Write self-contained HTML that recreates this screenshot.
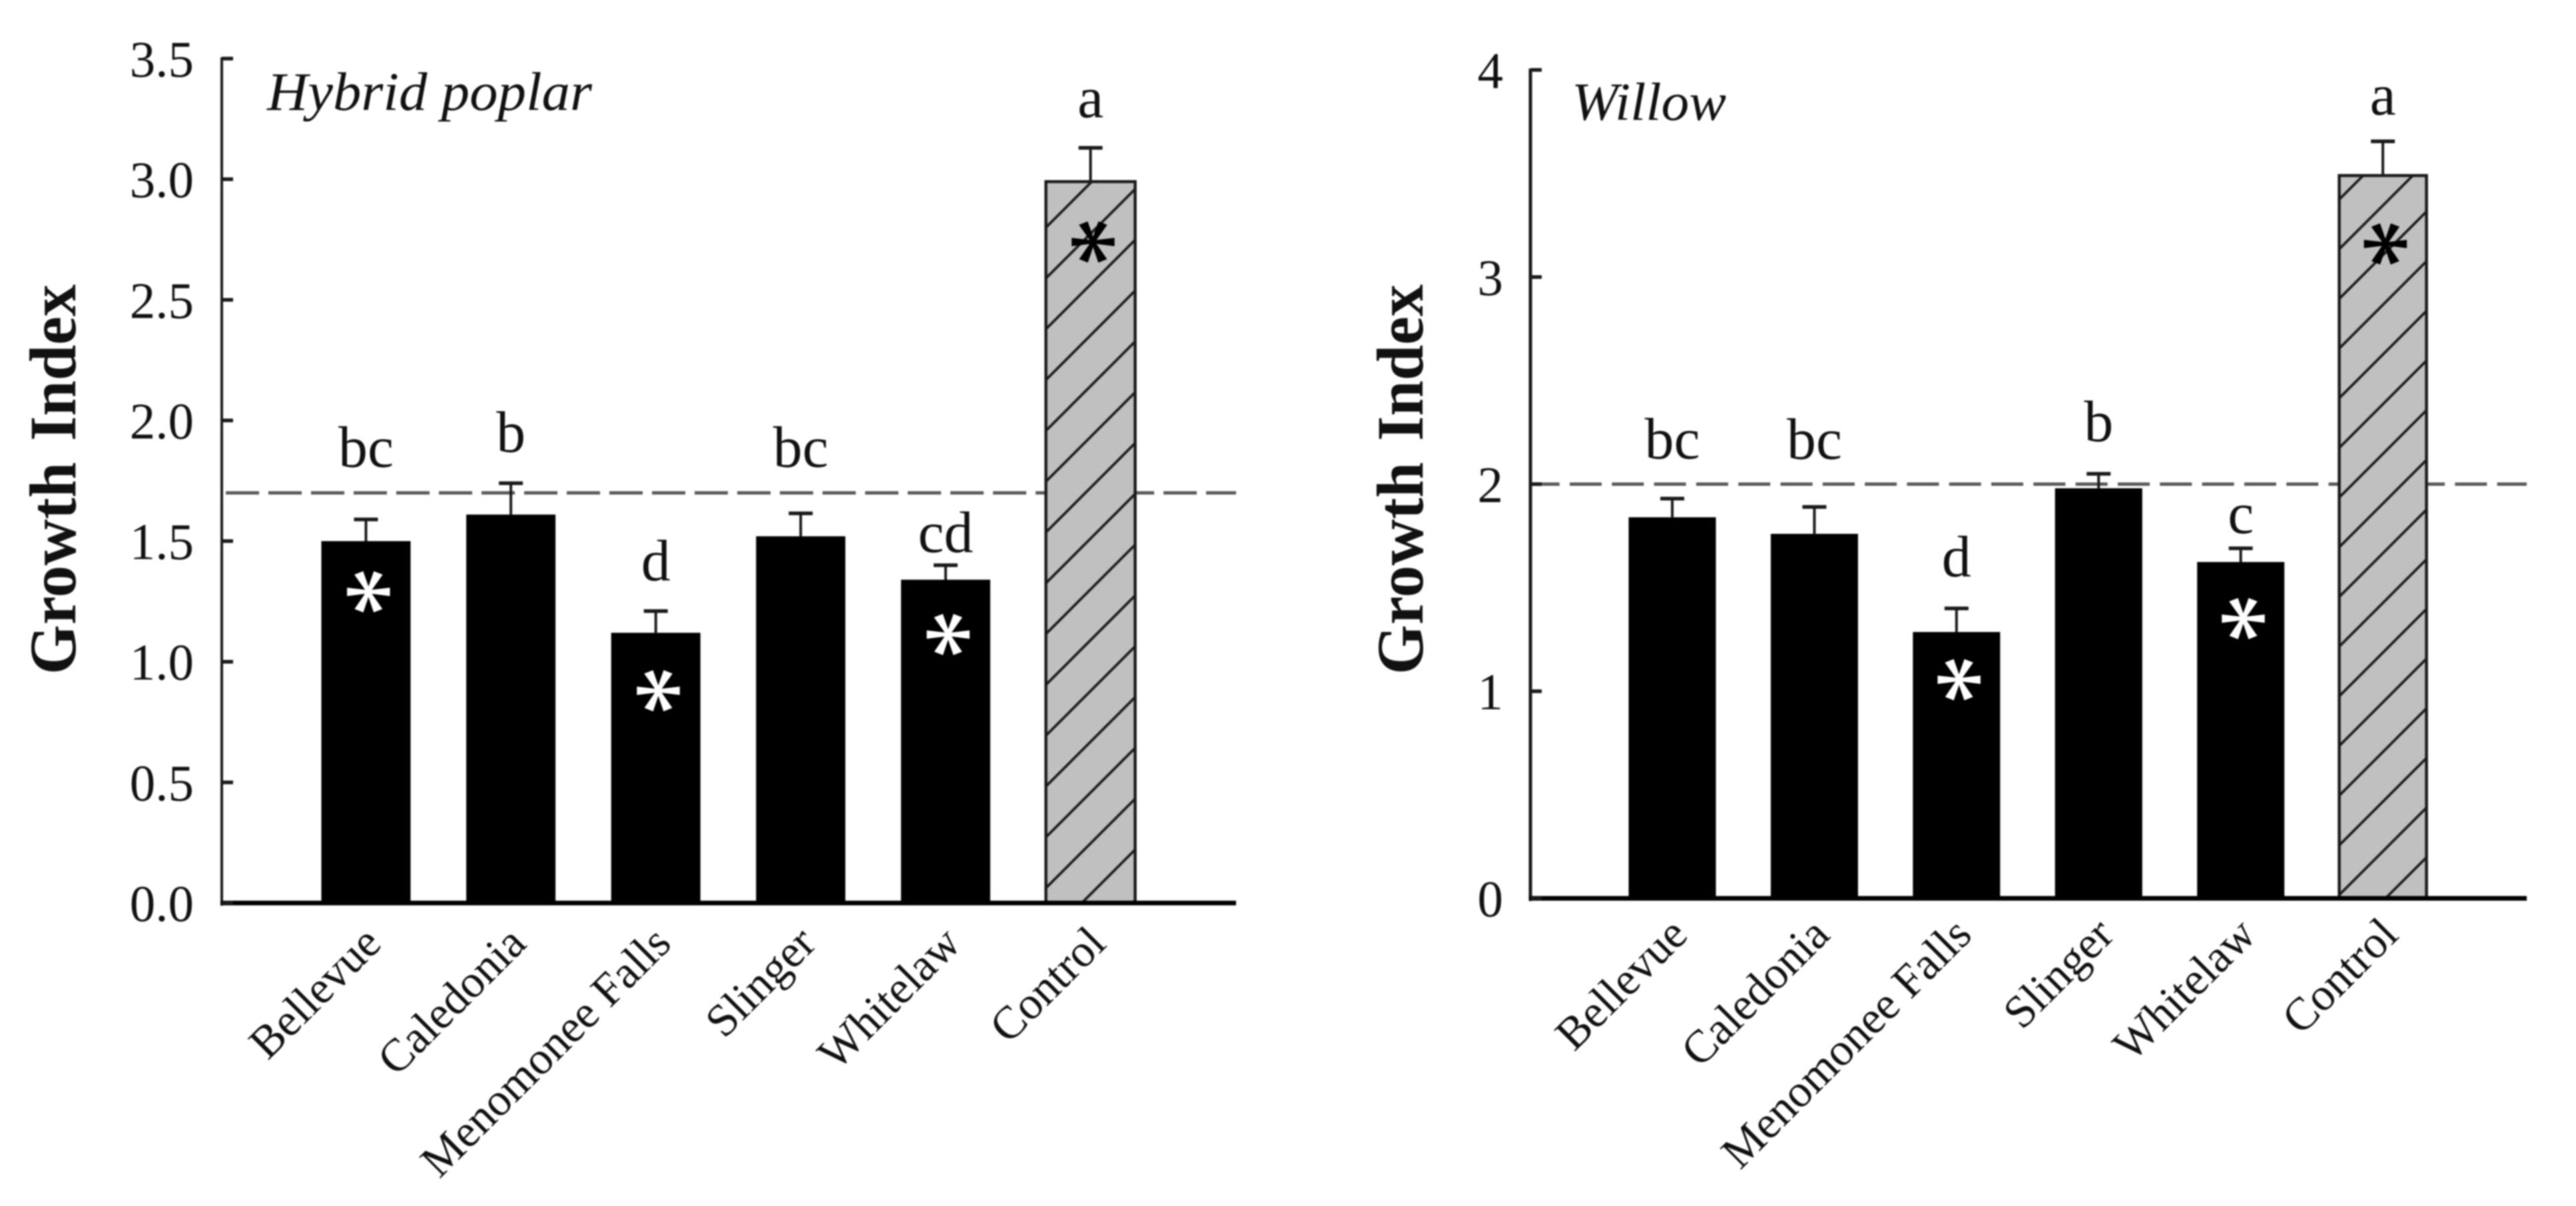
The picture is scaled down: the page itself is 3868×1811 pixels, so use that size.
<!DOCTYPE html>
<html lang="en">
<head>
<meta charset="utf-8">
<title>Growth Index by site</title>
<style>
html,body{margin:0;padding:0;background:#fff;width:3868px;height:1811px;overflow:hidden}
svg{display:block;filter:blur(1px)}
text{font-family:"Liberation Serif",serif;fill:#111}
</style>
</head>
<body>
<svg id="chart" xmlns="http://www.w3.org/2000/svg" width="3868" height="1811" viewBox="0 0 3868 1811">
  <defs>
    <pattern id="hatch-poplar" patternUnits="userSpaceOnUse" width="76.3" height="76.3" patternTransform="translate(4.6 0)">
      <line x1="-5" y1="81.3" x2="81.3" y2="-5" stroke="#1c1c1c" stroke-width="3.8"/>
      <line x1="-5" y1="5" x2="5" y2="-5" stroke="#1c1c1c" stroke-width="3.8"/>
      <line x1="71.3" y1="81.3" x2="81.3" y2="71.3" stroke="#1c1c1c" stroke-width="3.8"/>
    </pattern>
    <pattern id="hatch-willow" patternUnits="userSpaceOnUse" width="74.6" height="74.6" patternTransform="translate(7.4 0)">
      <line x1="-5" y1="79.6" x2="79.6" y2="-5" stroke="#1c1c1c" stroke-width="3.8"/>
      <line x1="-5" y1="5" x2="5" y2="-5" stroke="#1c1c1c" stroke-width="3.8"/>
      <line x1="69.6" y1="79.6" x2="79.6" y2="69.6" stroke="#1c1c1c" stroke-width="3.8"/>
    </pattern>
  </defs>
  <g id="poplar">
    <text transform="translate(113,1013) rotate(-90)" font-size="100" font-weight="bold" word-spacing="8" textLength="586" lengthAdjust="spacingAndGlyphs">Growth Index</text>
    <text x="401" y="165" font-size="82" font-style="italic" textLength="488" lengthAdjust="spacingAndGlyphs">Hybrid poplar</text>
  </g>
  <g id="willow">
    <text transform="translate(2136,1013) rotate(-90)" font-size="100" font-weight="bold" word-spacing="8" textLength="586" lengthAdjust="spacingAndGlyphs">Growth Index</text>
    <text x="2360" y="180" font-size="80" font-style="italic" textLength="232" lengthAdjust="spacingAndGlyphs">Willow</text>
  </g>
</svg>
<script>
const categories = ['Bellevue', 'Caledonia', 'Menomonee Falls', 'Slinger', 'Whitelaw', 'Control'];

const poplarValues = [1.50, 1.61, 1.12, 1.52, 1.34, 2.99];
const poplarErrorTops = [1.59, 1.74, 1.21, 1.615, 1.40, 3.13];
const poplarLetters = ['bc', 'b', 'd', 'bc', 'cd', 'a'];
const poplarLetterLift = [0.218, 0.13, 0.127, 0.193, 0.055, 0.127];
const poplarStarDepth = [0.21, null, 0.24, null, 0.227, 0.25];
const poplarTicks = [0, 0.5, 1, 1.5, 2, 2.5, 3, 3.5];
const poplarTickLabels = ['0.0', '0.5', '1.0', '1.5', '2.0', '2.5', '3.0', '3.5'];
const poplarReference = 1.70;

const willowValues = [1.84, 1.76, 1.286, 1.98, 1.624, 3.49];
const willowErrorTops = [1.93, 1.89, 1.40, 2.05, 1.69, 3.655];
const willowLetters = ['bc', 'bc', 'd', 'b', 'c', 'a'];
const willowLetterLift = [0.193, 0.232, 0.154, 0.158, 0.074, 0.129];
const willowStarDepth = [null, null, 0.23, null, 0.273, 0.33];
const willowTicks = [0, 1, 2, 3, 4];
const willowTickLabels = ['0', '1', '2', '3', '4'];
const willowReference = 2.00;

const SVGNS = 'http://www.w3.org/2000/svg';

function make(parent, tag, attrs, content) {
  const node = document.createElementNS(SVGNS, tag);
  for (const key in attrs) node.setAttribute(key, attrs[key]);
  if (content !== undefined) node.textContent = content;
  parent.appendChild(node);
  return node;
}

function drawPanel(root, layout, data) {
  const yScale = v => layout.baseY - v * layout.unit;
  const xScale = i => layout.firstX + i * layout.stepX;
  const ink = '#1a1a1a';

  const refLine = make(root, 'line', {x1: layout.axisX, x2: layout.endX, y1: yScale(data.reference), y2: yScale(data.reference), stroke: '#5a5a5a', 'stroke-width': 5, 'stroke-dasharray': layout.dash, 'stroke-dashoffset': layout.dashOffset});
  
  

  data.values.forEach((value, i) => {
    const cx = xScale(i);
    const top = yScale(value);
    const isControl = categories[i] === 'Control';

    const errLine = make(root, 'line', {x1: cx, x2: cx, y1: top, y2: yScale(data.errorTops[i]), stroke: ink, 'stroke-width': 4});
    
    

    const errCap = make(root, 'line', {x1: cx - 18, x2: cx + 18, y1: yScale(data.errorTops[i]), y2: yScale(data.errorTops[i]), stroke: ink, 'stroke-width': 5.5});
    
    

    if (isControl) {
      const base = make(root, 'rect', {x: cx - layout.barW / 2, y: top, width: layout.barW, height: layout.baseY - top, fill: '#c0c0c0'});
      
      
      const hatch = make(root, 'rect', {x: cx - layout.barW / 2, y: top, width: layout.barW, height: layout.baseY - top, fill: 'url(#' + layout.hatchId + ')', stroke: ink, 'stroke-width': 4.5});
      
      
    } else {
      const bar = make(root, 'rect', {x: cx - layout.barW / 2, y: top, width: layout.barW, height: layout.baseY - top, fill: '#000'});
      
      
    }

    if (data.starDepth[i] !== null) {
      const star = make(root, 'text', {x: 0, y: 70, transform: 'translate(' + (cx + 3) + ',' + yScale(value - data.starDepth[i]) + ') rotate(90) scale(1,1.15)', 'font-size': 150, 'text-anchor': 'middle', style: isControl ? 'fill:#000;stroke:#000;stroke-width:1' : 'fill:#fff;stroke:#fff;stroke-width:1'}, '*');
      
      
    }

    const letter = make(root, 'text', {x: cx, y: yScale(data.errorTops[i] + data.letterLift[i]), 'font-size': 88, 'text-anchor': 'middle'}, data.letters[i]);
    
    

    const label = make(root, 'text', {transform: 'translate(' + (cx + layout.labelDX) + ',' + layout.labelY + ') rotate(-45)', 'font-size': 69, 'text-anchor': 'end'}, categories[i]);
    
    
  });

  const yAxis = make(root, 'line', {x1: layout.axisX, x2: layout.axisX, y1: yScale(data.ticks[data.ticks.length - 1]) - 2, y2: layout.baseY + 4, stroke: ink, 'stroke-width': layout.axisW});
  
  

  const xAxis = make(root, 'line', {x1: layout.axisX - 2, x2: layout.endX, y1: layout.baseY, y2: layout.baseY, stroke: '#000', 'stroke-width': 7});
  
  

  data.ticks.forEach((tick, i) => {
    const mark = make(root, 'line', {x1: layout.axisX, x2: layout.axisX + 17, y1: yScale(tick), y2: yScale(tick), stroke: ink, 'stroke-width': 5.5});
    
    

    const label = make(root, 'text', {x: layout.tickLabelX, y: yScale(tick) + 27, 'font-size': 77, 'text-anchor': 'end'}, data.tickLabels[i]);
    
    
  });
}

drawPanel(document.getElementById('poplar'),
  {baseY: 1356, unit: 362.3, firstX: 549.5, stepX: 217.6, barW: 134, axisX: 333, endX: 1856, axisW: 4, tickLabelX: 291, labelDX: 26, labelY: 1420, hatchId: 'hatch-poplar', dash: '50 14', dashOffset: -6},
  {values: poplarValues, errorTops: poplarErrorTops, letters: poplarLetters, letterLift: poplarLetterLift, starDepth: poplarStarDepth, ticks: poplarTicks, tickLabels: poplarTickLabels, reference: poplarReference});

drawPanel(document.getElementById('willow'),
  {baseY: 1349, unit: 311, firstX: 2511, stepX: 213.4, barW: 131, axisX: 2298, endX: 3794, axisW: 5, tickLabelX: 2257, labelDX: 26, labelY: 1407, hatchId: 'hatch-willow', dash: '48 15.3', dashOffset: 4.3},
  {values: willowValues, errorTops: willowErrorTops, letters: willowLetters, letterLift: willowLetterLift, starDepth: willowStarDepth, ticks: willowTicks, tickLabels: willowTickLabels, reference: willowReference});
</script>
</body>
</html>
